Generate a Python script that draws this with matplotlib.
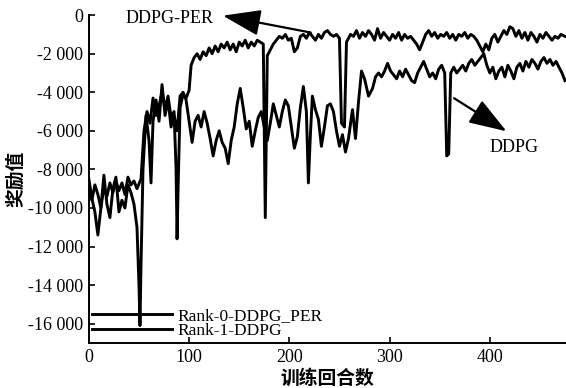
import numpy as np
import matplotlib.pyplot as plt
from matplotlib.ticker import FuncFormatter
from matplotlib.lines import Line2D

# DDPG-PER (upper curve)
per_ep = [0, 3, 6, 9, 12, 15, 18, 21, 24, 27, 30, 33, 36, 39, 42, 45, 48, 52, 55, 58,
          61, 64, 67, 70, 73, 76, 79, 82, 85, 87, 88, 89, 91, 94, 97, 100, 102, 105, 108, 111,
          114, 117, 120, 123, 126, 129, 132, 135, 138, 141, 144, 147, 150, 153, 156, 159, 162, 165, 168, 171,
          174, 176, 178, 181, 184, 187, 190, 193, 196, 199, 202, 205, 208, 211, 214, 217, 220, 223, 226, 229,
          232, 235, 238, 241, 244, 247, 250, 252, 255, 257, 261, 264, 267, 270, 273, 276, 279, 282, 285, 288,
          291, 294, 297, 300, 303, 306, 309, 312, 315, 318, 321, 324, 327, 330, 333, 336, 339, 342, 345, 348,
          351, 354, 357, 360, 363, 366, 369, 372, 375, 378, 381, 384, 387, 390, 393, 396, 399, 402, 405, 408,
          411, 414, 417, 420, 423, 426, 429, 432, 435, 438, 441, 444, 447, 450, 453, 456, 459, 462, 465, 468,
          471, 475]
per_val = [-9000, -9600, -8800, -9300, -10000, -8900, -9400, -8700, -9200, -8600, -9100, -8700, -9300, -8400, -8800, -8600, -9000, -8500, -6000, -5000,
           -5600, -4300, -5200, -4700, -4000, -4800, -4200, -5300, -5000, -8000, -11600, -9000, -4800, -4100, -4300, -3900, -2600, -2200, -2000, -2300,
           -1900, -2100, -1700, -2000, -1600, -1900, -1500, -1700, -1400, -1800, -1500, -1900, -1400, -1600, -1300, -1700, -1400, -1600, -1300, -1400,
           -1500, -10500, -2100, -1800, -1500, -1300, -1100, -1200, -1000, -1300, -1200, -1900, -1700, -1100, -1000, -1200, -900, -1100, -1300, -1000,
           -1200, -900, -800, -1000, -1100, -1000, -1200, -5600, -5800, -1400, -1000, -1100, -800, -1200, -900, -1100, -800, -1000, -1300, -700,
           -1200, -900, -1100, -1300, -1000, -1200, -900, -1300, -1000, -1200, -1100, -1300, -1500, -1800, -1400, -1000, -800, -1100, -900, -1200,
           -1000, -1100, -900, -1200, -1000, -1300, -1000, -1100, -900, -1200, -1000, -1100, -1300, -1600, -1900, -1500, -1800, -1200, -1000, -1400,
           -1100, -800, -1000, -600, -700, -1100, -800, -1200, -900, -1300, -900, -1100, -1400, -1000, -1200, -900, -1100, -1300, -1100, -1200,
           -1000, -1100]

# DDPG (lower curve)
ddpg_ep = [0, 3, 6, 9, 12, 15, 18, 21, 24, 27, 30, 33, 36, 39, 42, 45, 48, 50, 51, 52,
           54, 57, 60, 62, 64, 67, 70, 73, 76, 79, 82, 85, 88, 91, 94, 97, 100, 103, 106, 109,
           112, 115, 118, 121, 124, 127, 130, 133, 136, 139, 142, 145, 148, 151, 154, 157, 160, 163, 166, 169,
           172, 175, 178, 181, 184, 187, 190, 193, 196, 199, 202, 205, 208, 211, 214, 217, 219, 221, 223, 226,
           229, 232, 235, 238, 241, 244, 247, 250, 253, 256, 259, 263, 266, 269, 272, 275, 279, 283, 286, 289,
           292, 295, 298, 301, 304, 307, 310, 313, 316, 319, 322, 325, 328, 331, 334, 337, 340, 343, 346, 349,
           352, 355, 357, 359, 361, 364, 367, 370, 373, 376, 379, 382, 385, 388, 391, 394, 397, 400, 403, 406,
           409, 412, 415, 418, 421, 424, 427, 430, 433, 436, 439, 442, 445, 448, 451, 454, 457, 460, 463, 466,
           469, 472, 475]
ddpg_val = [-8500, -9500, -10200, -11400, -10000, -8300, -9800, -10500, -9000, -8400, -10200, -9600, -10000, -8800, -9200, -9800, -11000, -14000, -16100, -13000,
            -8000, -5200, -6500, -8700, -5500, -4400, -5500, -3600, -5200, -4400, -5800, -5200, -6000, -4200, -4000, -4400, -5500, -6600, -5500, -5200,
            -5800, -5000, -5600, -6400, -7300, -6500, -6000, -6600, -6900, -7700, -6500, -5800, -4600, -3800, -4800, -5900, -5500, -6800, -6000, -5300,
            -5000, -5800, -6500, -5600, -4600, -5200, -5800, -5000, -4400, -4700, -5800, -6900, -6300, -4800, -3700, -5000, -8700, -6200, -4200, -4900,
            -5400, -6800, -5800, -4700, -4600, -5000, -6000, -6800, -6200, -7100, -6400, -4900, -6400, -4500, -2900, -3300, -4200, -3800, -3200, -3000,
            -3200, -2900, -2500, -2900, -3100, -3300, -2900, -3200, -2800, -3100, -3400, -3500, -3000, -2700, -2400, -2800, -3200, -3000, -3300, -2800,
            -2600, -3000, -7300, -7200, -3000, -2700, -3000, -2800, -2600, -2900, -2500, -2300, -2600, -2400, -2200, -2000, -2600, -3000, -2700, -3300,
            -2900, -2700, -3200, -2600, -2900, -3300, -2700, -2500, -2900, -2400, -2700, -2300, -2500, -2800, -2400, -2200, -2500, -2300, -2600, -2400,
            -2700, -3000, -3400]

x_ticks = [0, 100, 200, 300, 400]
y_ticks = [0, -2000, -4000, -6000, -8000, -10000, -12000, -14000, -16000]
legend_labels = ['Rank-0-DDPG_PER', 'Rank-1-DDPG']

serif = 'Liberation Serif'
cjk = ['Noto Sans CJK SC', 'DejaVu Sans']

fig = plt.figure(figsize=(5.66, 3.88), dpi=100)
ax = fig.add_axes([0.157, 0.116, 0.843, 0.845])

ax.plot(ddpg_ep, ddpg_val, color='black', lw=2.1)
ax.plot(per_ep, per_val, color='black', lw=2.1)

ax.set_xlim(0, 476)
ax.set_ylim(-17000, 0)
ax.set_xticks(x_ticks)
ax.set_yticks(y_ticks)
ax.yaxis.set_major_formatter(FuncFormatter(lambda v, p: f'{int(v):,}'.replace(',', ' ')))
for s in ['top', 'right']:
    ax.spines[s].set_visible(False)
for s in ['left', 'bottom']:
    ax.spines[s].set_linewidth(1.4)
ax.tick_params(direction='in', length=4, width=1.2, labelsize=13, pad=4)
for lab in ax.get_xticklabels() + ax.get_yticklabels():
    lab.set_family(serif)

ax.set_xlabel('训练回合数', family=cjk, fontsize=13.5, fontweight='bold', labelpad=2)
ax.set_ylabel('奖励值', family=cjk, fontsize=13.5, fontweight='bold', labelpad=2)

# arrows and curve names
ax.annotate('', xy=(131, 0), xytext=(224, -930), annotation_clip=False,
            arrowprops=dict(arrowstyle='-|>,head_length=1.3,head_width=0.45',
                            color='black', lw=1.6, mutation_scale=18))
ax.text(80, -150, 'DDPG-PER', family=serif, fontsize=13, ha='center', va='center')
ax.annotate('', xy=(419, -6100), xytext=(362, -4230),
            arrowprops=dict(arrowstyle='-|>,head_length=1.3,head_width=0.45',
                            color='black', lw=1.6, mutation_scale=18))
ax.text(424, -6860, 'DDPG', family=serif, fontsize=13, ha='center', va='center')

handles = [Line2D([], [], color='black', lw=2.1), Line2D([], [], color='black', lw=2.1)]
ax.legend(handles, legend_labels, loc='lower left', frameon=False,
          prop={'family': serif, 'size': 12.5}, handlelength=4.6, handletextpad=0.3,
          labelspacing=-0.05, borderaxespad=0.0, bbox_to_anchor=(-0.008, -0.01))

fig.savefig('out.png', dpi=100)
